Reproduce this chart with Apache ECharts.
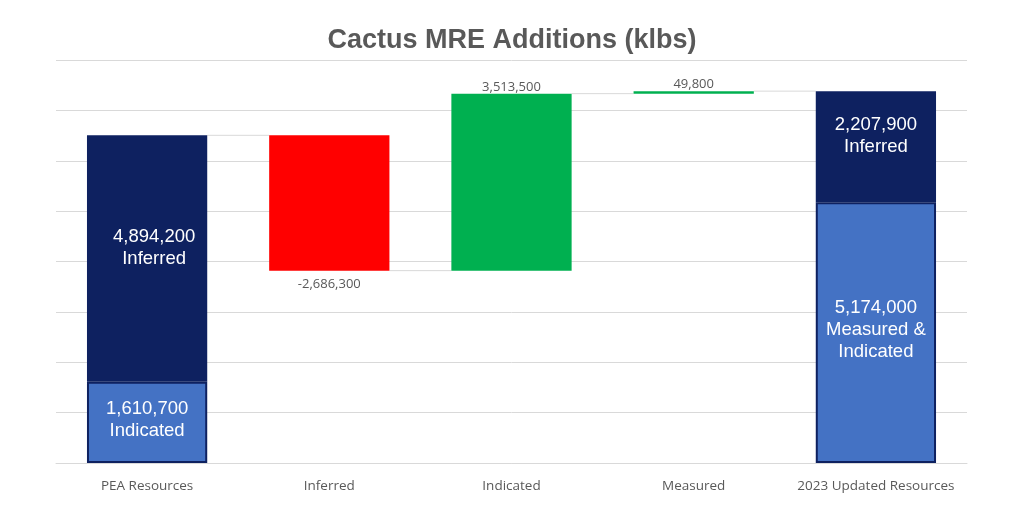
<!DOCTYPE html>
<html>
<head>
<meta charset="utf-8">
<script src="https://cdn.jsdelivr.net/npm/echarts@6/dist/echarts.min.js"></script>
<style>html,body{margin:0;padding:0;background:#fff;}#c{width:1024px;height:512px;}</style>
</head>
<body>
<div id="c"></div>
<script>
var categories = ['PEA Resources', 'Inferred', 'Indicated', 'Measured', '2023 Updated Resources'];
// Stacked totals (lower segment = indicated / M&I, upper segment = inferred)
var lowerValues = [1610700, null, null, null, 5174000];
var lowerNames = ['Indicated', '', '', '', 'Measured &\nIndicated'];
var upperValues = [4894200, null, null, null, 2207900];
var upperNames = ['Inferred', '', '', '', 'Inferred'];
// Changes between totals
var changeValues = [null, -2686300, 3513500, 49800, null];

// Build waterfall helper arrays
var baseArr = [], redArr = [], greenArr = [], levels = [];
var running = 0;
for (var i = 0; i < categories.length; i++) {
  if (changeValues[i] == null) {
    running = (lowerValues[i] || 0) + (upperValues[i] || 0);
    baseArr.push('-'); redArr.push('-'); greenArr.push('-');
  } else {
    var v = changeValues[i];
    if (v < 0) {
      baseArr.push(running + v); redArr.push(-v); greenArr.push('-');
    } else {
      baseArr.push(running); greenArr.push(v); redArr.push('-');
    }
    running += v;
  }
  levels.push(running);
}
function fmt(n){ return n.toLocaleString('en-US'); }

var chart = echarts.init(document.getElementById('c'));
var insideLabel = {
  show: true, position: 'inside', color: '#ffffff',
  fontFamily: 'Liberation Sans, Arial, sans-serif', fontSize: 18.5, lineHeight: 22
};
chart.setOption({
  animation: false,
  title: {
    text: 'Cactus MRE Additions (klbs)', left: 'center', top: 22,
    textStyle: { fontFamily: 'Liberation Sans, Arial, sans-serif', fontWeight: 'bold', fontSize: 27, color: '#595959' }
  },
  grid: { left: 56, right: 57, top: 60, bottom: 49 },
  xAxis: {
    type: 'category', data: categories,
    axisLine: { lineStyle: { color: '#d9d9d9' } },
    axisTick: { show: false },
    axisLabel: { interval: 0, color: '#595959', fontSize: 13.5, fontFamily: 'Open Sans, sans-serif', margin: 16 }
  },
  yAxis: {
    type: 'value', min: 0, max: 8000000, interval: 1000000,
    axisLabel: { show: false }, axisLine: { show: false }, axisTick: { show: false },
    splitLine: { lineStyle: { color: '#d9d9d9', width: 1 } }
  },
  series: [
    {
      type: 'custom', z: 1,
      renderItem: function (params, api) {
        var i = params.dataIndex;
        if (i >= categories.length - 1) return;
        var lvl = levels[i];
        var w = api.size([1, 0])[0] * 0.66;
        var p1 = api.coord([i, lvl]);
        var p2 = api.coord([i + 1, lvl]);
        return {
          type: 'line',
          shape: { x1: p1[0] + w / 2, y1: p1[1], x2: p2[0] - w / 2, y2: p2[1] },
          style: { stroke: '#d9d9d9', lineWidth: 1 }
        };
      },
      data: levels.map(function (v, i) { return [i, v]; }),
      silent: true
    },
    {
      name: 'base', type: 'bar', stack: 'w', barWidth: '66%',
      itemStyle: { color: 'transparent' }, data: baseArr, silent: true
    },
    {
      name: 'lower', type: 'bar', stack: 'w', barWidth: '66%',
      itemStyle: { color: '#4472C4', borderColor: '#0E2160', borderWidth: 2 },
      data: lowerValues.map(function (v) { return v == null ? '-' : v; }),
      label: Object.assign({}, insideLabel, {
        offset: [0, -3],
        formatter: function (p) { return fmt(p.value) + '\n' + lowerNames[p.dataIndex]; }
      })
    },
    {
      name: 'upper', type: 'bar', stack: 'w', barWidth: '66%',
      itemStyle: { color: '#0E2160' },
      data: upperValues.map(function (v, i) {
        if (v == null) return '-';
        return i === 0 ? { value: v, label: { offset: [7, -11] } } : v;
      }),
      label: Object.assign({}, insideLabel, {
        offset: [0, -11],
        formatter: function (p) { return fmt(p.value) + '\n' + upperNames[p.dataIndex]; }
      })
    },
    {
      name: 'decrease', type: 'bar', stack: 'w', barWidth: '66%',
      itemStyle: { color: '#FF0000' }, data: redArr,
      label: {
        show: true, position: 'bottom', distance: 7, color: '#595959', fontSize: 13,
        fontFamily: 'Open Sans, sans-serif',
        formatter: function (p) { return fmt(changeValues[p.dataIndex]); }
      }
    },
    {
      name: 'increase', type: 'bar', stack: 'w', barWidth: '66%',
      itemStyle: { color: '#00B050' }, data: greenArr,
      label: {
        show: true, position: 'top', distance: 0, color: '#595959', fontSize: 13,
        fontFamily: 'Open Sans, sans-serif',
        formatter: function (p) { return fmt(changeValues[p.dataIndex]); }
      }
    }
  ]
});
</script>
</body>
</html>
